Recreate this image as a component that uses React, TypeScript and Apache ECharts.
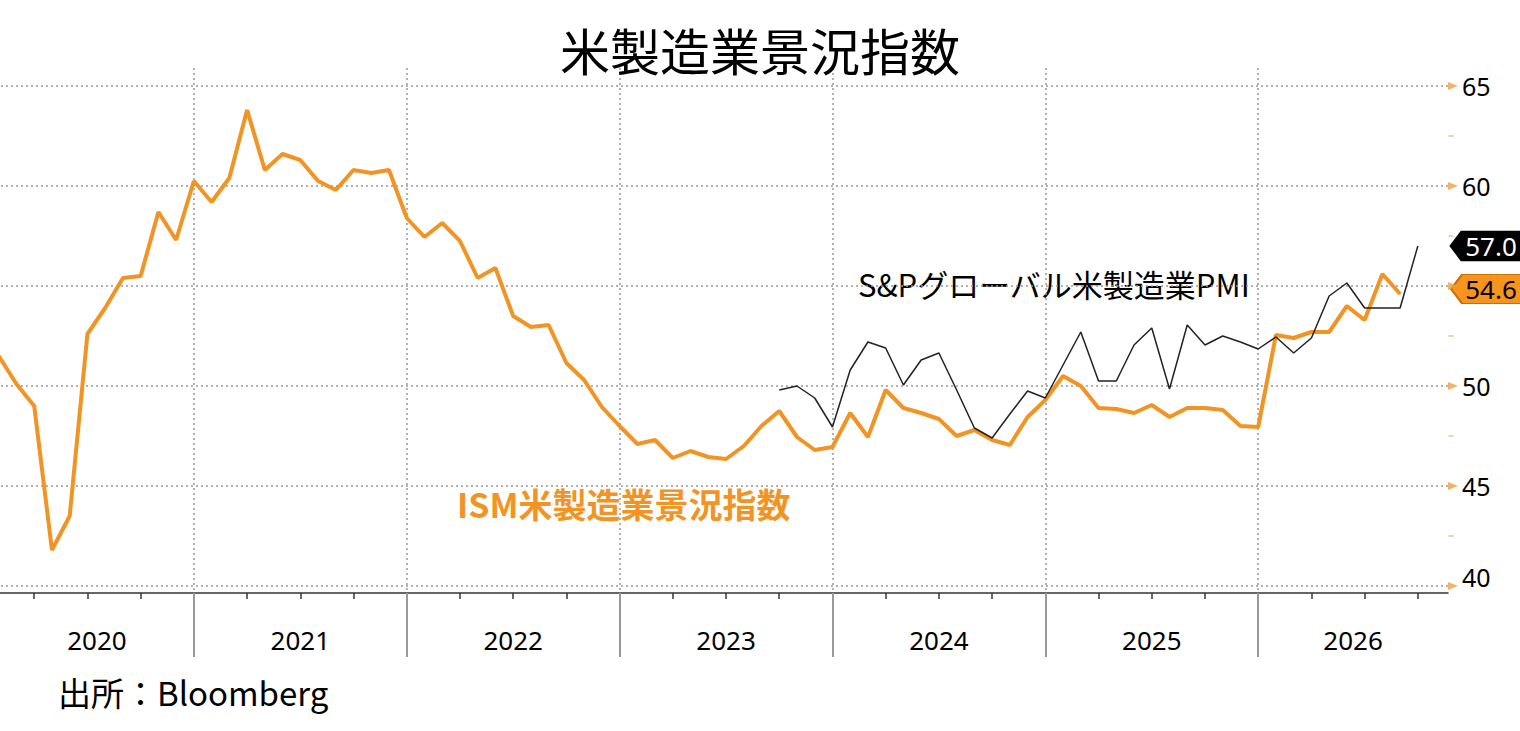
import React, { useEffect, useRef } from "react";
import * as echarts from "echarts";

// ISM manufacturing index, monthly (first reading = end of Jan 2020)
const ismValues = [
  51.5, 50.1, 49.0, 41.8, 43.5, 52.6, 53.9, 55.4, 55.5, 58.7, 57.3, 60.25,
  59.2, 60.4, 63.8, 60.8, 61.6, 61.3, 60.25, 59.8, 60.8, 60.65, 60.8, 58.4,
  57.45, 58.15, 57.25, 55.4, 55.9, 53.5, 52.95, 53.05, 51.15, 50.3, 48.95, 48.0,
  47.1, 47.3, 46.4, 46.75, 46.45, 46.35, 47.0, 48.0, 48.75, 47.45, 46.8, 46.95,
  48.65, 47.45, 49.8, 48.9, 48.65, 48.35, 47.5, 47.8, 47.3, 47.05, 48.45, 49.3,
  50.5, 50.0, 48.9, 48.85, 48.65, 49.05, 48.45, 48.9, 48.9, 48.8, 48.0, 47.95,
  52.55, 52.4, 52.7, 52.7, 54.0, 53.3, 55.6, 54.6,
];
// S&P Global US manufacturing PMI, monthly
const spValues = [
  49.8, 50.0, 49.4, 47.95, 50.8, 52.2, 51.9, 50.05, 51.3, 51.65, 49.8, 47.9,
  47.4, 48.6, 49.75, 49.4, 51.05, 52.7, 50.25, 50.25, 52.05, 52.9, 49.85, 53.05,
  52.05, 52.5, 52.2, 51.85, 52.45, 51.65, 52.4, 54.5, 55.15, 53.9, 53.9, 53.9,
  57.0,
];
const ismStartMonth = 1; // months after 2020-01-01
const spStartMonth = 45;
const yearLabels = ["2020", "2021", "2022", "2023", "2024", "2025", "2026"];
const yTickValues = [40, 45, 50, 55, 60, 65];
const yLabelValues = [40, 45, 50, 60, 65]; // 55 is hidden behind the value tag
const yMinorTickValues = [42.5, 47.5, 52.5, 57.5, 62.5];

const title = "米製造業景況指数";
const spName = "S&Pグローバル米製造業PMI";
const ismName = "ISM米製造業景況指数";
const sourceText = "出所：Bloomberg";

const X_MIN = 0;
const X_VISIBLE_MIN = 1.07; // month at the page's left edge
const X_MAX = 82.7;
const Y_MIN = 39.65;
const Y_MAX = 65.9;

const ORANGE = "#F29423";
const AXIS_ORANGE = "#F2B062";

export default function App() {
  const ref = useRef<HTMLDivElement>(null);
  useEffect(() => {
    if (!ref.current) return;
    const chart = echarts.init(ref.current, undefined, { renderer: "svg" });

    const ismData = ismValues.map((v, i) => [ismStartMonth + i, v]);
    const spData = spValues.map((v, i) => [spStartMonth + i, v]);
    const yearBounds = yearLabels.slice(1).map((_, i) => 12 * (i + 1));
    // labels centred in the visible part of each year
    const yearCenters = yearLabels.map((_, i) => {
      const a = Math.max(12 * i, X_VISIBLE_MIN);
      const b = Math.min(12 * (i + 1), X_MAX);
      return (a + b) / 2;
    });
    const quarterTicks: number[] = [];
    yearLabels.forEach((_, i) => {
      [3, 6, 9].forEach((m) => quarterTicks.push(12 * i + m));
    });

    const tagPath = "path://M0,14.5L11,0L72,0L72,29L11,29Z";

    chart.setOption({
      animation: false,
      backgroundColor: "#fff",
      textStyle: { fontFamily: "Noto Sans" },
      title: {
        text: title,
        left: "center",
        top: 24,
        padding: 0,
        textStyle: {
          fontSize: 50,
          fontWeight: "normal",
          fontFamily: "Noto Sans CJK JP",
          color: "#000",
        },
      },
      grid: {
        left: -19,
        right: 72,
        top: 68,
        bottom: 138,
        containLabel: false,
        outerBoundsMode: "none",
      },
      xAxis: [
        {
          type: "value",
          min: X_MIN,
          max: X_MAX,
          position: "bottom",
          axisLine: { show: true, lineStyle: { color: "#333", width: 1.5 } },
          axisTick: {
            show: true,
            customValues: quarterTicks,
            length: 6,
            lineStyle: { color: "#333", width: 1.5 },
          },
          axisLabel: {
            show: true,
            customValues: yearCenters,
            margin: 34,
            fontSize: 26,
            color: "#000",
            fontFamily: "Noto Sans",
            formatter: (v: number) => yearLabels[Math.floor(v / 12)] ?? "",
          },
          splitLine: { show: false },
        },
        {
          type: "value",
          min: X_MIN,
          max: X_MAX,
          position: "bottom",
          axisLine: { show: false },
          axisTick: {
            show: true,
            customValues: yearBounds,
            length: 64,
            lineStyle: { color: "#999", width: 2 },
          },
          axisLabel: { show: false },
          splitLine: {
            show: true,
            lineStyle: { color: "#999", width: 1.5, type: [2, 3] },
          },
        },
      ],
      yAxis: [
        {
          type: "value",
          position: "right",
          min: Y_MIN,
          max: Y_MAX,
          axisLine: { show: true, lineStyle: { color: AXIS_ORANGE, width: 2 } },
          axisTick: { show: false, customValues: yTickValues },
          axisLabel: {
            show: true,
            customValues: yLabelValues,
            margin: 14,
            fontSize: 25,
            color: "#000",
            fontFamily: "Noto Sans",
            formatter: (v: number) => (v === 40 ? `{low|${v}}` : `${v}`),
            rich: {
              low: {
                fontSize: 25,
                color: "#000",
                fontFamily: "Noto Sans",
                padding: [0, 0, 18, 0],
              },
            },
          },
          splitLine: {
            show: true,
            lineStyle: { color: "#999", width: 1.5, type: [2, 3] },
          },
        },
      ],
      series: [
        {
          type: "line",
          name: ismName,
          data: ismData,
          symbol: "none",
          lineStyle: { color: ORANGE, width: 4 },
          itemStyle: { color: ORANGE },
          z: 3,
          markPoint: {
            symbol: tagPath,
            symbolSize: [72, 29],
            symbolOffset: [39, -5],
            silent: true,
            itemStyle: { color: "#F7941D", borderColor: "#C87000", borderWidth: 1.5 },
            label: {
              show: true,
              position: "inside",
              offset: [4, 0],
              color: "#000",
              fontSize: 26,
              fontFamily: "Noto Sans",
              formatter: (p: any) => Number(p.value).toFixed(1),
            },
            data: [
              {
                coord: [X_MAX, ismValues[ismValues.length - 1]],
                value: ismValues[ismValues.length - 1],
              },
            ],
          },
        },
        {
          type: "line",
          name: spName,
          data: spData,
          symbol: "none",
          lineStyle: { color: "#222", width: 1.5 },
          itemStyle: { color: "#222" },
          z: 4,
          markPoint: {
            symbol: tagPath,
            symbolSize: [72, 29],
            symbolOffset: [39, 0],
            silent: true,
            itemStyle: { color: "#000", borderColor: "#000" },
            label: {
              show: true,
              position: "inside",
              offset: [4, 0],
              color: "#fff",
              fontSize: 26,
              fontFamily: "Noto Sans",
              formatter: (p: any) => Number(p.value).toFixed(1),
            },
            data: [
              {
                coord: [X_MAX, spValues[spValues.length - 1]],
                value: spValues[spValues.length - 1],
              },
            ],
          },
        },
        {
          type: "scatter",
          data: yTickValues.map((v) => [X_MAX, v]),
          symbol: "triangle",
          symbolRotate: -90,
          symbolSize: [8, 10],
          symbolOffset: [5, 0],
          itemStyle: { color: "#F0A040" },
          silent: true,
          clip: false,
          z: 5,
        },
        {
          type: "scatter",
          data: yMinorTickValues.map((v) => [X_MAX, v]),
          symbol: "rect",
          symbolSize: [5, 1.5],
          symbolOffset: [3, 0],
          itemStyle: { color: AXIS_ORANGE },
          silent: true,
          clip: false,
          z: 5,
        },
      ],
      graphic: [
        {
          type: "text",
          x: 858,
          y: 283,
          style: {
            text: spName,
            fontSize: 31,
            fontFamily: "Noto Sans CJK JP",
            fill: "#000",
            verticalAlign: "middle",
          },
        },
        {
          type: "text",
          x: 457,
          y: 503,
          style: {
            text: ismName,
            fontSize: 34,
            fontWeight: "bold",
            fontFamily: "Noto Sans CJK JP",
            fill: ORANGE,
            verticalAlign: "middle",
          },
        },
        {
          type: "text",
          x: 58,
          y: 692,
          style: {
            text: sourceText,
            fontSize: 33,
            fontFamily: "Noto Sans CJK JP",
            fill: "#000",
            verticalAlign: "middle",
          },
        },
      ],
    });

    return () => chart.dispose();
  }, []);

  return (
    <div
      ref={ref}
      style={{
        position: "fixed",
        left: 0,
        top: 0,
        width: 1520,
        height: 731,
        background: "#fff",
      }}
    />
  );
}
